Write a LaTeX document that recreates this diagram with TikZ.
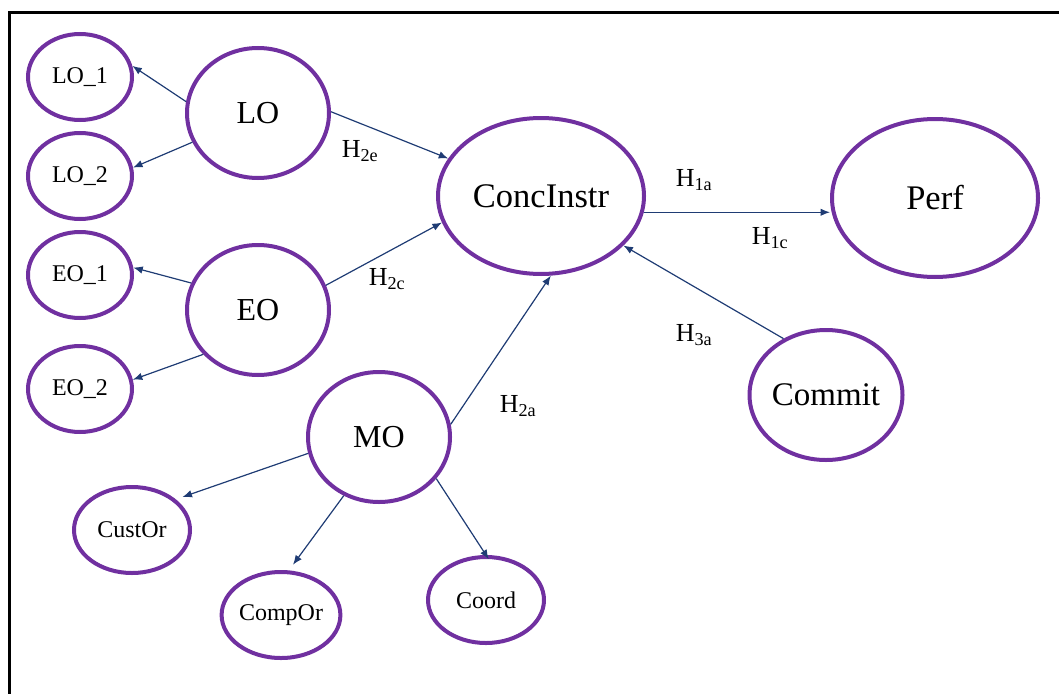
\documentclass[tikz,border=0pt]{standalone}
\usepackage{fontspec}
\setmainfont{Liberation Serif}
\usetikzlibrary{shapes.geometric,arrows.meta}
\definecolor{ringpurple}{HTML}{7030A0}
\definecolor{linkblue}{HTML}{1F3C74}

\begin{document}
\begin{tikzpicture}[x=1pt,y=-1pt,
  construct/.style={ellipse,draw=ringpurple,line width=4pt,inner sep=0pt,
    font=\fontsize{32}{36}\selectfont},
  big/.style={construct,minimum width=142pt,minimum height=130pt},
  wide/.style={construct,minimum width=206pt,minimum height=156pt,
    font=\fontsize{34.5}{38}\selectfont},
  item/.style={construct,minimum width=104pt,minimum height=86pt,
    font=\fontsize{24}{28}\selectfont},
  link/.style={draw=linkblue,line width=1.2pt,-{Latex[length=9.5pt,width=7.5pt]}},
  hyp/.style={inner sep=0pt,font=\fontsize{26}{30}\selectfont}]
\useasboundingbox (0,0) rectangle (1059,693);
\clip (0,0) rectangle (1059,693);

% outer frame (runs past the right and bottom edges)
\draw[line width=3pt] (9,720) -- (9,13) -- (1090,13);

% constructs
\node[big] (LO) at (258,113) {LO};
\node[item] (LO1) at (80,77) {LO\_1};
\node[item] (LO2) at (80,176) {LO\_2};
\node[big] (EO) at (258,310) {EO};
\node[item] (EO1) at (80,275) {EO\_1};
\node[item] (EO2) at (80,389) {EO\_2};
\node[big] (MO) at (379,437) {MO};
\node[item,minimum width=116pt] (CustOr) at (132,530) {CustOr};
\node[item,minimum width=116pt] (CompOr) at (281,615) {CompOr};
\node[item,minimum width=116pt] (Coord) at (486,600) {Coord};
\node[wide] (CI) at (541,196) {ConcInstr};
\node[wide,minimum height=158pt] (Perf) at (935,198) {Perf};
\node[big,minimum width=144pt,font=\fontsize{33}{37}\selectfont] (Commit) at (826,395) {Commit};

% indicator links
\draw[link] (LO.171) -- (LO1.12);
\draw[link] (LO.204) -- (LO2.9);
\draw[link] (EO.158) -- (EO1.8);
\draw[link] (EO.219) -- (EO2.10);
\draw[link,shorten >=7pt] (MO.193) -- (CustOr.35);
\draw[link,shorten >=7pt] (MO.239) -- (CompOr.80);
\draw[link,shorten >=-5pt] (MO.324) -- (Coord.north);

% structural paths
\draw[link] (LO.1) -- (CI.158);
\draw[link] (EO.20) -- (CI.195);
\draw[link] (MO.10) -- (CI.277);
\draw[link] (Commit.127) -- (CI.329);
\draw[link] (CI.351) -- (Perf.west |- CI.351);

% hypothesis labels
\node[hyp] (h2e) at (360,151) {H\textsubscript{2e}};
\node[hyp] (h2c) at (387,279) {H\textsubscript{2c}};
\node[hyp] (h2a) at (518,406) {H\textsubscript{2a}};
\node[hyp] (h1a) at (694,180) {H\textsubscript{1a}};
\node[hyp] (h1c) at (770,238) {H\textsubscript{1c}};
\node[hyp] (h3a) at (694,335) {H\textsubscript{3a}};
\end{tikzpicture}
\end{document}
